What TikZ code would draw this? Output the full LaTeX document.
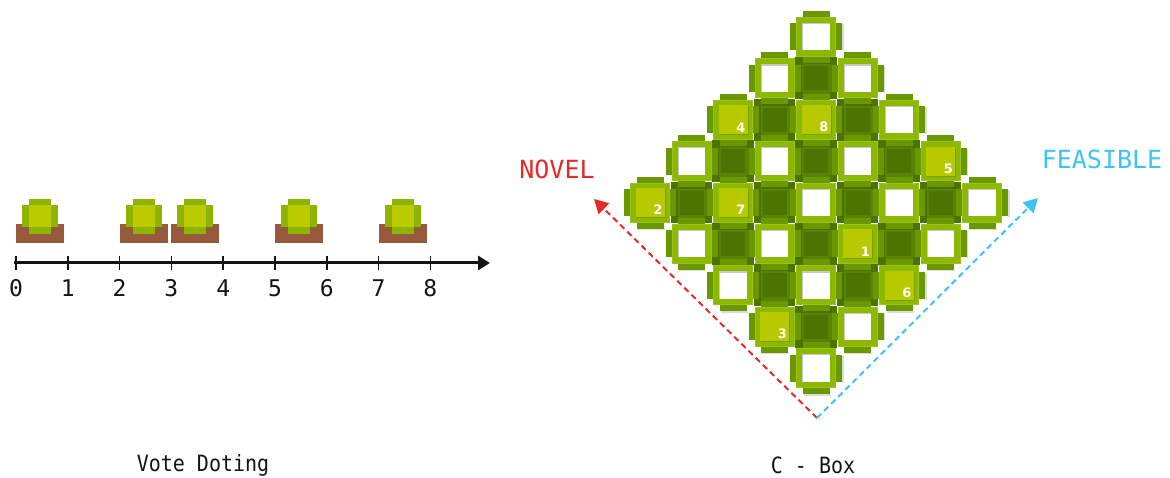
\documentclass[tikz,border=0pt]{standalone}
\usepackage{fontspec}
\setmonofont{DejaVu Sans Mono}
\setsansfont{DejaVu Sans}
\usetikzlibrary{arrows.meta}

\definecolor{cellouter}{HTML}{8CB800}
\definecolor{cellrim}{HTML}{9AC21A}
\definecolor{celltab}{HTML}{699800}
\definecolor{cellhi}{HTML}{B8C900}
\definecolor{darkfill}{HTML}{4C7400}
\definecolor{darkbar}{HTML}{588304}
\definecolor{soil}{HTML}{96593B}
\definecolor{leaf}{HTML}{8DB400}
\definecolor{leafhi}{HTML}{BBCB00}
\definecolor{novelred}{HTML}{E42A2A}
\definecolor{feasblue}{HTML}{3EC3F5}
\definecolor{axisink}{HTML}{141414}

\tikzset{
  pixlabel/.style={font=\ttfamily\fontsize{20}{20}\selectfont, yscale=1.12, text=axisink},
  ticklabel/.style={font=\ttfamily\fontsize{23}{23}\selectfont, text=axisink},
  dirlabel/.style={font=\ttfamily\fontsize{25}{25}\selectfont},
  cellnum/.style={font=\sffamily\bfseries\fontsize{13}{13}\selectfont, text=white, inner sep=0pt},
  dirarrow/.style={line width=2pt, dash pattern=on 6pt off 4pt, -{Triangle[length=14pt,width=15pt]}},
  softshade/.style={fill=black, fill opacity=0.14},
}

% light cell: tabs, shadow, frame and hollow or highlighted centre
\newcommand{\lightcell}[3]{% x, y, label (empty = hollow)
  \fill[softshade] (#1-12.5,#2+26) rectangle (#1+14.5,#2+27.5);
  \fill[softshade] (#1+26,#2-12.5) rectangle (#1+27.5,#2+14.5);
  \fill[celltab] (#1-13.5,#2-26) rectangle (#1+13.5,#2-20);
  \fill[celltab] (#1-13.5,#2+20) rectangle (#1+13.5,#2+26);
  \fill[celltab] (#1-26,#2-13.5) rectangle (#1-20,#2+13.5);
  \fill[celltab] (#1+20,#2-13.5) rectangle (#1+26,#2+13.5);
  \fill[cellrim] (#1-20,#2-20) rectangle (#1+20,#2+20);
  \fill[cellouter] (#1-19,#2-19) rectangle (#1+19,#2+19);
  \ifx\relax#3\relax
    \fill[black!22] (#1-14,#2-14) rectangle (#1+13.5,#2+13.5);
    \fill[white] (#1-12.8,#2-12.8) rectangle (#1+13.5,#2+13.5);
  \else
    \fill[softshade] (#1-13.5,#2-13.5) rectangle (#1+15.5,#2+15.5);
    \fill[cellhi] (#1-14.5,#2-14.5) rectangle (#1+14.5,#2+14.5);
    \node[cellnum, anchor=south east] at (#1+12.5,#2+12.5) {#3};
  \fi
}
% dark filler cell between light cells
\newcommand{\darkcell}[2]{%
  \fill[darkfill] (#1-20.9,#2-20.9) rectangle (#1+20.9,#2+20.9);
  \fill[darkbar] (#1-13.5,#2-15.5) rectangle (#1+13.5,#2-12);
  \fill[darkbar] (#1-13.5,#2+12) rectangle (#1+13.5,#2+15.5);
  \fill[darkbar] (#1-15.5,#2-13.5) rectangle (#1-12,#2+13.5);
  \fill[darkbar] (#1+12,#2-13.5) rectangle (#1+15.5,#2+13.5);
}
% potted bush sitting on an interval of the number line
\newcommand{\bush}[1]{% left x of the soil
  \fill[soil] (#1,224) rectangle (#1+48,243);
  \fill[leaf] (#1+13,199) rectangle (#1+35,234);
  \fill[leaf] (#1+6,205) rectangle (#1+42,227);
  \fill[leafhi] (#1+13,205) rectangle (#1+35,227);
}

\begin{document}
\begin{tikzpicture}[x=1pt,y=-1pt]
\useasboundingbox (0,0) rectangle (1170,478);

% ---------------- number line with bushes ----------------
\foreach \i in {0,2,3,5,7} {
  \pgfmathsetmacro{\bx}{16+\i*51.8}
  \bush{\bx}
}
\coordinate (axstart) at (14,263);
\coordinate (axend) at (490,263);
\draw[axisink, line width=3pt, -{Triangle[length=12pt,width=14pt]}] (axstart) -- (axend);
\foreach \i in {0,...,8} {
  \pgfmathsetmacro{\tx}{16+\i*51.8}
  \draw[axisink, line width=1.6pt] (\tx,256.5) -- (\tx,270);
  \node[ticklabel] (tick\i) at (\tx,288) {\i};
}
\node[pixlabel] (votecap) at (203,465) {Vote Doting};

% ---------------- C-Box diamond ----------------
% dark cells first, then light cells on top
\foreach \r in {0,...,8} {
  \foreach \c in {0,...,8} {
    \pgfmathtruncatemacro{\dist}{abs(\r-4)+abs(\c-4)}
    \pgfmathtruncatemacro{\parity}{mod(\r+\c,2)}
    \ifnum\dist<5 \ifnum\parity=1
      \pgfmathsetmacro{\cx}{816+(\c-4)*41.5}
      \pgfmathsetmacro{\cy}{37+\r*41.4}
      \darkcell{\cx}{\cy}
    \fi\fi
  }
}
\foreach \r in {0,...,8} {
  \foreach \c in {0,...,8} {
    \pgfmathtruncatemacro{\dist}{abs(\r-4)+abs(\c-4)}
    \pgfmathtruncatemacro{\parity}{mod(\r+\c,2)}
    \ifnum\dist<5 \ifnum\parity=0
      \pgfmathsetmacro{\cx}{816+(\c-4)*41.5}
      \pgfmathsetmacro{\cy}{37+\r*41.4}
      \pgfmathtruncatemacro{\key}{\r*10+\c}
      \def\lab{}
      \ifnum\key=22 \def\lab{4}\fi
      \ifnum\key=24 \def\lab{8}\fi
      \ifnum\key=37 \def\lab{5}\fi
      \ifnum\key=40 \def\lab{2}\fi
      \ifnum\key=42 \def\lab{7}\fi
      \ifnum\key=55 \def\lab{1}\fi
      \ifnum\key=66 \def\lab{6}\fi
      \ifnum\key=73 \def\lab{3}\fi
      \edef\docell{\noexpand\lightcell{\cx}{\cy}{\lab}}
      \docell
    \fi\fi
  }
}

% direction arrows
\coordinate (apex) at (817,418);
\coordinate (noveltip) at (594,199);
\coordinate (feastip) at (1038,198);
\draw[novelred, dirarrow] (apex) -- (noveltip);
\draw[feasblue, dirarrow] (apex) -- (feastip);
\node[dirlabel, text=novelred] (novel) at (557,169) {NOVEL};
\node[dirlabel, text=feasblue] (feasible) at (1102,159) {FEASIBLE};

\node[pixlabel] (cboxcap) at (813,465) {C - Box};
\end{tikzpicture}
\end{document}
